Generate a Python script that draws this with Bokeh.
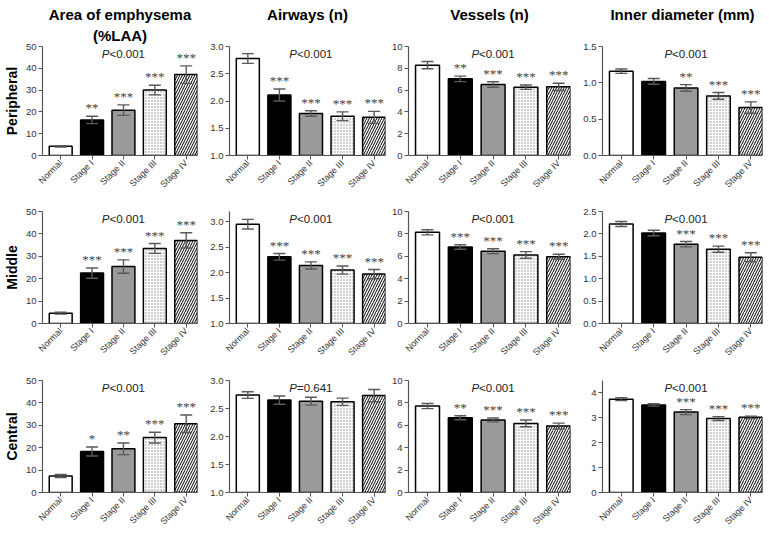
import math
from bokeh.plotting import figure
from bokeh.layouts import gridplot
from bokeh.models import (ColumnDataSource, Range1d, FixedTicker, NumeralTickFormatter,
                          Whisker, TeeHead, Title, Label)
from bokeh.embed import file_html
from bokeh.resources import INLINE

groups = ["Normal", "Stage I", "Stage II", "Stage III", "Stage IV"]
regions = ["Peripheral", "Middle", "Central"]
measure_lines = [["Area of emphysema", "(%LAA)"], ["Airways (n)", " "], ["Vessels (n)", " "],
                 ["Inner diameter (mm)", " "]]

# ---- Peripheral ----
laa_per = [4.2, 16.3, 20.8, 30.0, 37.1]
laa_per_se = [0.3, 1.7, 2.4, 2.2, 4.0]
laa_per_sig = ["", "**", "***", "***", "***"]
aw_per = [2.78, 2.11, 1.77, 1.72, 1.70]
aw_per_se = [0.09, 0.11, 0.05, 0.08, 0.11]
aw_per_sig = ["", "***", "***", "***", "***"]
ves_per = [8.29, 7.03, 6.51, 6.27, 6.30]
ves_per_se = [0.33, 0.25, 0.25, 0.20, 0.33]
ves_per_sig = ["", "**", "***", "***", "***"]
id_per = [1.16, 1.02, 0.93, 0.82, 0.66]
id_per_se = [0.03, 0.04, 0.046, 0.046, 0.078]
id_per_sig = ["", "", "**", "***", "***"]

# ---- Middle ----
laa_mid = [4.6, 22.5, 25.4, 33.5, 37.1]
laa_mid_se = [0.4, 2.3, 3.0, 2.2, 3.4]
laa_mid_sig = ["", "***", "***", "***", "***"]
aw_mid = [2.95, 2.31, 2.14, 2.05, 1.97]
aw_mid_se = [0.095, 0.065, 0.07, 0.08, 0.09]
aw_mid_sig = ["", "***", "***", "***", "***"]
ves_mid = [8.14, 6.83, 6.46, 6.12, 5.96]
ves_mid_se = [0.23, 0.20, 0.22, 0.30, 0.22]
ves_mid_sig = ["", "***", "***", "***", "***"]
id_mid = [2.22, 2.02, 1.77, 1.66, 1.48]
id_mid_se = [0.056, 0.06, 0.06, 0.068, 0.10]
id_mid_sig = ["", "", "***", "***", "***"]

# ---- Central ----
laa_cen = [7.4, 18.3, 19.5, 24.5, 30.7]
laa_cen_se = [0.7, 2.0, 2.6, 2.4, 3.9]
laa_cen_sig = ["", "*", "**", "***", "***"]
aw_cen = [2.74, 2.65, 2.63, 2.62, 2.73]
aw_cen_se = [0.06, 0.074, 0.07, 0.065, 0.11]
aw_cen_sig = ["", "", "", "", ""]
ves_cen = [7.72, 6.67, 6.48, 6.17, 5.93]
ves_cen_se = [0.23, 0.18, 0.17, 0.30, 0.26]
ves_cen_sig = ["", "**", "***", "***", "***"]
id_cen = [3.75, 3.52, 3.23, 2.97, 3.02]
id_cen_se = [0.06, 0.05, 0.10, 0.08, 0.05]
id_cen_sig = ["", "", "***", "***", "***"]

p_values = [["<0.001", "<0.001", "<0.001", "<0.001"],
            ["<0.001", "<0.001", "<0.001", "<0.001"],
            ["<0.001", "=0.641", "<0.001", "<0.001"]]

panels = [
    [(laa_per, laa_per_se, laa_per_sig), (aw_per, aw_per_se, aw_per_sig),
     (ves_per, ves_per_se, ves_per_sig), (id_per, id_per_se, id_per_sig)],
    [(laa_mid, laa_mid_se, laa_mid_sig), (aw_mid, aw_mid_se, aw_mid_sig),
     (ves_mid, ves_mid_se, ves_mid_sig), (id_mid, id_mid_se, id_mid_sig)],
    [(laa_cen, laa_cen_se, laa_cen_sig), (aw_cen, aw_cen_se, aw_cen_sig),
     (ves_cen, ves_cen_se, ves_cen_sig), (id_cen, id_cen_se, id_cen_sig)],
]

# axis ranges / ticks (row, col)
y_ranges = [[(0, 50), (1, 3.0), (0, 10), (0, 1.5)],
            [(0, 50), (1, 3.2), (0, 10), (0, 2.5)],
            [(0, 50), (1, 3.0), (0, 10), (0, 4.5)]]
y_ticks = [[[0, 10, 20, 30, 40, 50], [1.0, 1.5, 2.0, 2.5, 3.0], [0, 2, 4, 6, 8, 10], [0, 0.5, 1.0, 1.5]],
           [[0, 10, 20, 30, 40, 50], [1.0, 1.5, 2.0, 2.5, 3.0], [0, 2, 4, 6, 8, 10], [0, 0.5, 1.0, 1.5, 2.0, 2.5]],
           [[0, 10, 20, 30, 40, 50], [1.0, 1.5, 2.0, 2.5, 3.0], [0, 2, 4, 6, 8, 10], [0, 1, 2, 3, 4]]]
y_formats = [["0", "0.0", "0", "0.0"], ["0", "0.0", "0", "0.0"], ["0", "0.0", "0", "0"]]

bar_fill = ["white", "black", "#9a9a9a", "white", "white"]
bar_hatch = [" ", " ", " ", ".", "/"]
bar_hatch_color = ["black", "black", "black", "#8a8a8a", "black"]
bar_hatch_scale = [4, 4, 4, 3, 5]

FONT = "Liberation Sans"
fig_w = [201, 187, 186, 193]
border_l = [32, 28, 20, 28]
border_r = [4, 3, 4, 5]
border_t = [46, 14, 15]
frame_h = [109, 112, 112]
border_b = 42
AX = "#555555"
LBL = "#333333"

xs = [1, 2, 3, 4, 5]
rows = []
for r in range(3):
    row = []
    for c in range(4):
        means, errs, sig = panels[r][c]
        lo, hi = y_ranges[r][c]
        p = figure(width=fig_w[c], height=border_t[r] + frame_h[r] + border_b,
                   x_range=Range1d(0.42, 5.36), y_range=Range1d(lo, hi),
                   output_backend="svg", toolbar_location=None,
                   min_border_left=border_l[c], min_border_right=border_r[c],
                   min_border_top=border_t[r], min_border_bottom=border_b)
        p.outline_line_color = None
        p.xgrid.visible = False
        p.ygrid.visible = False
        p.background_fill_color = "white"
        p.border_fill_color = "white"

        src = ColumnDataSource(dict(
            x=xs, top=means, bottom=[lo] * 5,
            upper=[m + e for m, e in zip(means, errs)],
            lower=[m - e for m, e in zip(means, errs)],
            sig=sig, fill=bar_fill, hatch=bar_hatch, hcol=bar_hatch_color, hscale=bar_hatch_scale))
        p.vbar(x="x", top="top", bottom="bottom", width=0.73, source=src,
               fill_color="fill", line_color="black", line_width=1.5,
               hatch_pattern="hatch", hatch_color="hcol", hatch_scale="hscale", hatch_weight=1.0)

        w = Whisker(base="x", upper="upper", lower="lower", source=src,
                    line_color="#5a5a5a", line_width=1.4, level="annotation",
                    upper_head=TeeHead(size=12, line_color="#5a5a5a", line_width=1.4),
                    lower_head=TeeHead(size=12, line_color="#5a5a5a", line_width=1.4))
        p.add_layout(w)

        p.text(x="x", y="upper", text="sig", source=src, text_align="center",
               text_baseline="bottom", text_font=FONT, text_font_size="13px",
               text_color="#444444", y_offset=-1)

        py = lo + 0.93 * (hi - lo)
        p.add_layout(Label(x=3, y=py, text="P", text_align="right", text_baseline="middle",
                           x_offset=-14, text_font=FONT, text_font_size="11.5px",
                           text_font_style="italic", text_color="#222222"))
        p.add_layout(Label(x=3, y=py, text=p_values[r][c], text_align="left", text_baseline="middle",
                           x_offset=-14, text_font=FONT, text_font_size="11.5px",
                           text_color="#222222"))

        # x axis
        xa = p.xaxis[0]
        xa.ticker = FixedTicker(ticks=xs)
        xa.major_label_overrides = {x: g for x, g in zip(xs, groups)}
        xa.major_label_orientation = math.pi / 4
        xa.minor_tick_line_color = None
        xa.major_tick_in = 0
        xa.major_tick_out = 4
        xa.major_label_standoff = 2
        xa.axis_line_color = AX
        xa.major_tick_line_color = AX
        xa.axis_line_width = 1.2
        xa.major_label_text_font = FONT
        xa.major_label_text_font_size = "9px"
        xa.major_label_text_color = LBL

        ya = p.yaxis[0]
        ya.ticker = FixedTicker(ticks=y_ticks[r][c])
        ya.formatter = NumeralTickFormatter(format=y_formats[r][c])
        ya.minor_tick_line_color = None
        ya.major_tick_in = 0
        ya.major_tick_out = 4
        ya.major_label_standoff = 2
        ya.axis_line_color = AX
        ya.major_tick_line_color = AX
        ya.axis_line_width = 1.2
        ya.major_label_text_font = FONT
        ya.major_label_text_font_size = "9.5px"
        ya.major_label_text_color = LBL
        if c == 0:
            ya.axis_label = regions[r]
            ya.axis_label_text_font = FONT
            ya.axis_label_text_font_style = "bold"
            ya.axis_label_text_font_size = "14px"
            ya.axis_label_text_color = "black"
            ya.axis_label_standoff = 3

        if r == 0:
            lines = measure_lines[c]
            p.add_layout(Title(text=lines[1], align="center", text_font=FONT, text_font_size="15px",
                               text_font_style="bold", text_color="black", standoff=5), "above")
            p.add_layout(Title(text=lines[0], align="center", text_font=FONT, text_font_size="15px",
                               text_font_style="bold", text_color="black", standoff=0), "above")
        row.append(p)
    rows.append(row)

grid = gridplot(rows, toolbar_location=None)
open("out.html", "w").write(file_html(grid, INLINE))
